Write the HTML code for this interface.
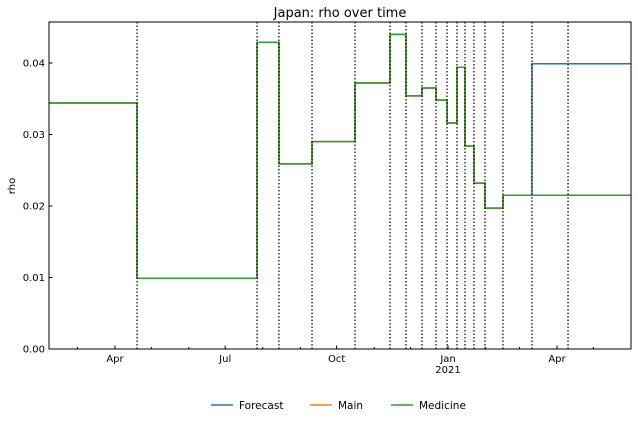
<!DOCTYPE html>
<html><head><meta charset="utf-8"><style>
body{margin:0;background:#fff;font-family:"Liberation Sans","DejaVu Sans",sans-serif;}
svg text{font-family:"DejaVu Sans","Liberation Sans",sans-serif;font-size:10px;fill:#000}
</style></head><body>
<svg id="chart" width="638" height="422"></svg>
<script>
// days since 2020-01-01
const changeDays=[109.2,208.3,226.4,253.7,289.2,318.1,331.3,344.5,356.1,365.2,373.4,380,387.4,396.5,411.4,435.3,465.1];
const segStarts=[36.5,109.2,208.3,226.4,253.7,289.2,318.1,331.3,344.5,356.1,365.2,373.4,380,387.4,396.5,411.4];
const mainValues=[0.0344,0.0099,0.0429,0.0259,0.0290,0.0372,0.0440,0.0354,0.0365,0.0348,0.0316,0.0394,0.0284,0.0232,0.0197,0.0215];
const forecastChangeDay=435.3;
const forecastValue=0.0399;
const endDay=517;
const yTicks=[0,0.01,0.02,0.03,0.04];
const yTickLabels=["0.00","0.01","0.02","0.03","0.04"];
const xMajorDays=[91,182,274,366,456];
const xMajorLabels=["Apr","Jul","Oct","Jan","Apr"];
const xMinorDays=[60,121,152,213,244,305,335,397,425,486];

const L=49,R=631,T=22,B=349;
const X=d=>115+(d-91)*1.211;
const Y=v=>B-v*7150;
const svg=document.getElementById('chart');
const NS='http://www.w3.org/2000/svg';
function mk(t,a,p){const e=document.createElementNS(NS,t);for(const k in a)e.setAttribute(k,a[k]);(p||svg).appendChild(e);return e;}

function stepPath(starts,vals,end){
  let d='';
  for(let i=0;i<starts.length;i++){
    const x0=X(starts[i]),x1=X(i+1<starts.length?starts[i+1]:end),y=Y(vals[i]);
    d+=(i===0?'M':'L')+x0+','+y+'L'+x1+','+y;
  }
  return d;
}
const fStarts=segStarts.filter(s=>s<forecastChangeDay).concat([forecastChangeDay]);
const fVals=mainValues.slice(0,fStarts.length-1).concat([forecastValue]);
let p=mk('path',{d:stepPath(fStarts,fVals,endDay),fill:'none',stroke:'#1f77b4','stroke-width':1.5});


p=mk('path',{d:stepPath(segStarts,mainValues,endDay),fill:'none',stroke:'#ff7f0e','stroke-width':1.5});


p=mk('path',{d:stepPath(segStarts,mainValues,endDay),fill:'none',stroke:'#2ca02c','stroke-width':1.5});


changeDays.forEach(d=>{
  const l=mk('line',{x1:X(d),x2:X(d),y1:T,y2:B,stroke:'#000','stroke-width':1.2,'stroke-dasharray':'1.5,2'});
  
  
});
const f=mk('rect',{x:L,y:T,width:R-L,height:B-T,fill:'none',stroke:'#000','stroke-width':1});


yTicks.forEach((v,i)=>{
  const t=mk('line',{x1:L,x2:L+3.5,y1:Y(v),y2:Y(v),stroke:'#000'});
  
  
  const tx=mk('text',{x:L-4,y:Y(v)+3.5,'text-anchor':'end'});tx.textContent=yTickLabels[i];
  
  
});
xMajorDays.forEach((d,i)=>{
  const t=mk('line',{x1:X(d),x2:X(d),y1:B,y2:B-3.5,stroke:'#000'});
  
  
  const tx=mk('text',{x:X(d),y:B+13,'text-anchor':'middle'});tx.textContent=xMajorLabels[i];
  
  
});
xMinorDays.forEach(d=>{
  const t=mk('line',{x1:X(d),x2:X(d),y1:B,y2:B-2,stroke:'#000'});
  
  
});
let yr=mk('text',{x:X(366),y:B+24,'text-anchor':'middle'});yr.textContent='2021';


let ti=mk('text',{x:340,y:17,'text-anchor':'middle',style:'font-size:13px'});ti.textContent='Japan: rho over time';


let yl=mk('text',{x:15,y:186,'text-anchor':'middle',transform:'rotate(-90 15 186)'});yl.textContent='rho';


[['Forecast','#1f77b4',211],['Main','#ff7f0e',310],['Medicine','#2ca02c',391]].forEach(([n,c,x])=>{
  const g=mk('g',{});
  
  
  mk('line',{x1:x,x2:x+22,y1:405,y2:405,stroke:c,'stroke-width':1.5},g);
  const t=mk('text',{x:x+28,y:409,style:'font-size:10.5px'},g);t.textContent=n;
});
</script>
</body></html>
